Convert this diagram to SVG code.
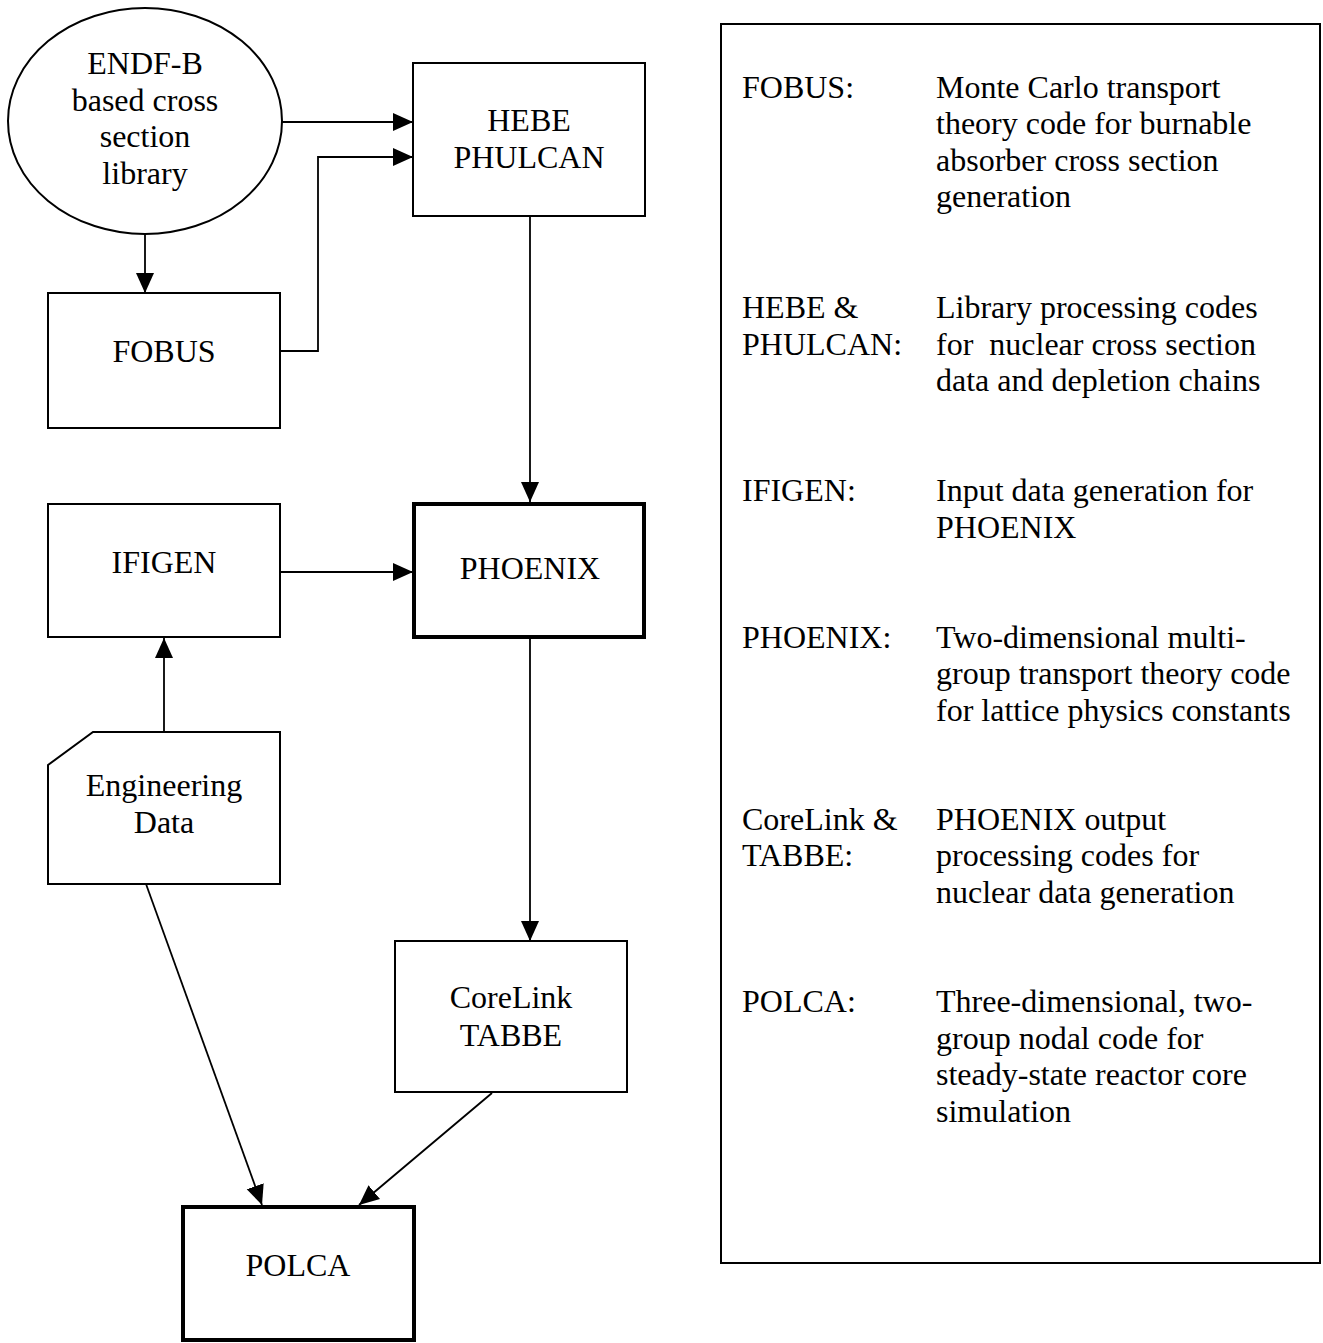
<svg xmlns="http://www.w3.org/2000/svg" width="1323" height="1343" viewBox="0 0 1323 1343">
<style>
text{font-family:"Liberation Serif","Times New Roman",serif;font-size:32px;fill:#000}
.c{text-anchor:middle}
.box{fill:#fff;stroke:#000;stroke-width:2}
.thick{fill:#fff;stroke:#000;stroke-width:4}
.edge{fill:none;stroke:#000;stroke-width:1.8}
</style>
<defs>
<marker id="ah" markerUnits="userSpaceOnUse" markerWidth="22" markerHeight="20" refX="20" refY="9" orient="auto">
<path d="M0,0 L20,9 L0,18 z" fill="#000"/>
</marker>
</defs>
<rect width="1323" height="1343" fill="#fff"/>
<g id="connectors">
<line class="edge" x1="282" y1="122" x2="413" y2="122" marker-end="url(#ah)"/>
<polyline class="edge" points="280,351 318,351 318,157 413,157" marker-end="url(#ah)"/>
<line class="edge" x1="145" y1="235" x2="145" y2="293" marker-end="url(#ah)"/>
<line class="edge" x1="530" y1="216" x2="530" y2="502" marker-end="url(#ah)"/>
<line class="edge" x1="280" y1="572" x2="413" y2="572" marker-end="url(#ah)"/>
<line class="edge" x1="164" y1="732" x2="164" y2="638" marker-end="url(#ah)"/>
<line class="edge" x1="530" y1="637" x2="530" y2="941" marker-end="url(#ah)"/>
<line class="edge" x1="146" y1="884" x2="262" y2="1205" marker-end="url(#ah)"/>
<line class="edge" x1="492" y1="1093" x2="359" y2="1205" marker-end="url(#ah)"/>
</g>
<g id="endf">
<ellipse class="box" cx="145" cy="121" rx="137" ry="113"/>
<text class="c" x="145" y="74">ENDF-B</text>
<text class="c" x="145" y="111">based cross</text>
<text class="c" x="145" y="147">section</text>
<text class="c" x="145" y="184">library</text>
</g>
<g id="hebe">
<rect class="box" x="413" y="63" width="232" height="153"/>
<text class="c" x="529" y="131">HEBE</text>
<text class="c" x="529" y="168">PHULCAN</text>
</g>
<g id="fobus">
<rect class="box" x="48" y="293" width="232" height="135"/>
<text class="c" x="164" y="362">FOBUS</text>
</g>
<g id="ifigen">
<rect class="box" x="48" y="504" width="232" height="133"/>
<text class="c" x="164" y="573">IFIGEN</text>
</g>
<g id="phoenix">
<rect class="thick" x="414" y="504" width="230" height="133"/>
<text class="c" x="530" y="579">PHOENIX</text>
</g>
<g id="engdata">
<path class="box" d="M48,765 L93,732 L280,732 L280,884 L48,884 Z"/>
<text class="c" x="164" y="796">Engineering</text>
<text class="c" x="164" y="833">Data</text>
</g>
<g id="corelink">
<rect class="box" x="395" y="941" width="232" height="151"/>
<text class="c" x="511" y="1008">CoreLink</text>
<text class="c" x="511" y="1046">TABBE</text>
</g>
<g id="polca">
<rect class="thick" x="183" y="1207" width="231" height="133"/>
<text class="c" x="298" y="1276">POLCA</text>
</g>
<g id="legend">
<rect class="box" x="721" y="24" width="599" height="1239"/>
<text x="742" y="98">FOBUS:</text>
<text x="936" y="98">Monte Carlo transport</text>
<text x="936" y="134">theory code for burnable</text>
<text x="936" y="171">absorber cross section</text>
<text x="936" y="207">generation</text>
<text x="742" y="318">HEBE &amp;</text>
<text x="742" y="355">PHULCAN:</text>
<text x="936" y="318">Library processing codes</text>
<text x="936" y="355" xml:space="preserve">for  nuclear cross section</text>
<text x="936" y="391">data and depletion chains</text>
<text x="742" y="501">IFIGEN:</text>
<text x="936" y="501">Input data generation for</text>
<text x="936" y="538">PHOENIX</text>
<text x="742" y="648">PHOENIX:</text>
<text x="936" y="648">Two-dimensional multi-</text>
<text x="936" y="684">group transport theory code</text>
<text x="936" y="721">for lattice physics constants</text>
<text x="742" y="830">CoreLink &amp;</text>
<text x="742" y="866">TABBE:</text>
<text x="936" y="830">PHOENIX output</text>
<text x="936" y="866">processing codes for</text>
<text x="936" y="903">nuclear data generation</text>
<text x="742" y="1012">POLCA:</text>
<text x="936" y="1012">Three-dimensional, two-</text>
<text x="936" y="1049">group nodal code for</text>
<text x="936" y="1085">steady-state reactor core</text>
<text x="936" y="1122">simulation</text>
</g>
</svg>
